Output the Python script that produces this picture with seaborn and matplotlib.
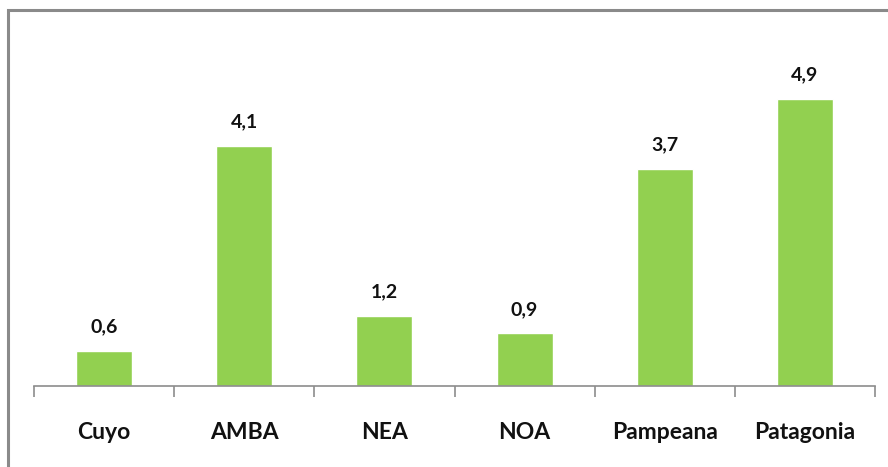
import matplotlib
matplotlib.use("Agg")
import matplotlib.pyplot as plt
from matplotlib.patches import Rectangle
from matplotlib.ticker import FixedLocator
import seaborn as sns
import pandas as pd

regiones = ["Cuyo", "AMBA", "NEA", "NOA", "Pampeana", "Patagonia"]
valores = [0.6, 4.1, 1.2, 0.9, 3.7, 4.9]
etiquetas = ["0,6", "4,1", "1,2", "0,9", "3,7", "4,9"]

sns.set_theme(style="white")
plt.rcParams["font.family"] = ["Lato", "DejaVu Sans"]

df = pd.DataFrame({"region": regiones, "valor": valores})

W, H = 888, 467
fig = plt.figure(figsize=(W / 100, H / 100), dpi=100)
fig.patch.set_facecolor("white")

ax = fig.add_axes([34 / W, 81 / H, (875 - 34) / W, 346 / H])
sns.barplot(data=df, x="region", y="valor", color="#92D050", width=0.4,
            saturation=1, ax=ax)

ax.set_xlim(-0.5, len(regiones) - 0.5)
ax.set_ylim(0, 5.9)
ax.set_xlabel("")
ax.set_ylabel("")
ax.set_yticks([])

for s in ["top", "right", "left"]:
    ax.spines[s].set_visible(False)
ax.spines["bottom"].set_color("#8c8c8c")
ax.spines["bottom"].set_linewidth(1.2)

ax.xaxis.set_minor_locator(FixedLocator([i - 0.5 for i in range(len(regiones) + 1)]))
ax.tick_params(axis="x", which="major", length=0, pad=26, labelsize=16.5)
ax.tick_params(axis="x", which="minor", length=8, width=1.2, color="#8c8c8c",
               direction="out", bottom=True)
for lbl in ax.get_xticklabels():
    lbl.set_fontweight("bold")
    lbl.set_color("#111111")

for i, (v, t) in enumerate(zip(valores, etiquetas)):
    ax.annotate(t, (i, v), xytext=(0, 11), textcoords="offset points",
                ha="center", va="bottom", fontsize=14, fontweight="bold",
                color="#111111")

# chart frame, open on the right and bottom
fig.add_artist(Rectangle((8 / W, -0.1), 1.2, 1.1 - 10 / H,
                         transform=fig.transFigure, fill=False,
                         edgecolor="#8a8a8a", linewidth=2.2))

fig.savefig("out.png", dpi=100, facecolor="white")
